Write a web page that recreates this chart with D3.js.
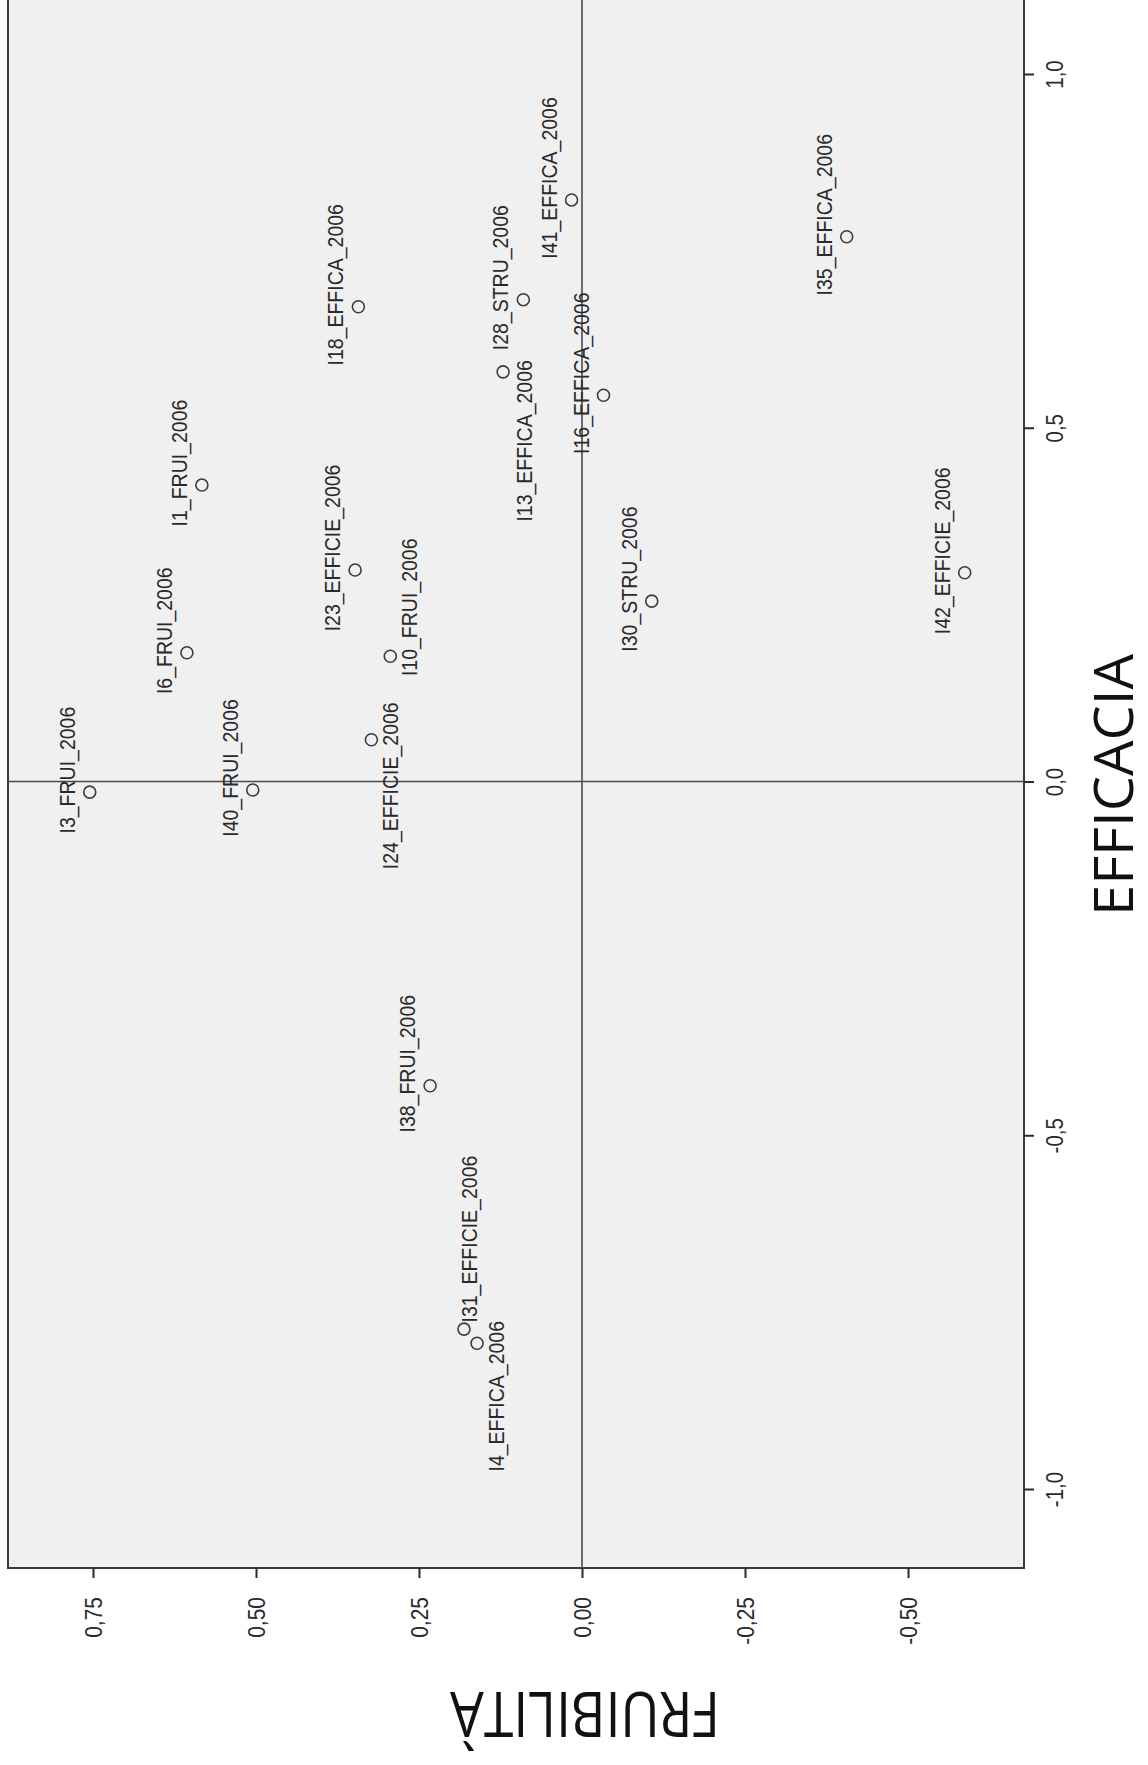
<!DOCTYPE html>
<html>
<head>
<meta charset="utf-8">
<script src="https://cdn.jsdelivr.net/npm/d3@7"></script>
<style>
  html, body { margin: 0; padding: 0; background: #ffffff; }
  svg { display: block; }
</style>
</head>
<body>
<svg id="chart" width="1148" height="1765"></svg>
<script>
// Indicator names and their coordinates on the two dimensions
const names = [
  "I3_FRUI_2006", "I40_FRUI_2006", "I6_FRUI_2006", "I1_FRUI_2006",
  "I23_EFFICIE_2006", "I10_FRUI_2006", "I24_EFFICIE_2006", "I18_EFFICA_2006",
  "I28_STRU_2006", "I13_EFFICA_2006", "I16_EFFICA_2006", "I41_EFFICA_2006",
  "I30_STRU_2006", "I35_EFFICA_2006", "I42_EFFICIE_2006", "I38_FRUI_2006",
  "I31_EFFICIE_2006", "I4_EFFICA_2006"
];
const fruibilita = [
  0.755, 0.505, 0.606, 0.583,
  0.348, 0.294, 0.323, 0.343,
  0.090, 0.121, -0.033, 0.016,
  -0.107, -0.406, -0.587, 0.233,
  0.181, 0.161
];
const efficacia = [
  -0.015, -0.012, 0.182, 0.419,
  0.299, 0.177, 0.059, 0.671,
  0.681, 0.579, 0.546, 0.822,
  0.255, 0.770, 0.295, -0.430,
  -0.774, -0.794
];
const fruiTicks = [0.75, 0.5, 0.25, 0, -0.25, -0.5];
const effTicks = [1, 0.5, 0, -0.5, -1];

// Page is drawn turned a quarter: FRUIBILITÀ runs across, EFFICACIA runs down.
const frame = { left: 8, right: 1024, top: -4, bottom: 1568 };
const x = d3.scaleLinear().domain([0.75, -0.5]).range([93, 908]);
const y = d3.scaleLinear().domain([1, -1]).range([74, 1489]);

const locale = d3.formatLocale({ decimal: ",", thousands: ".", grouping: [3], currency: ["", "€"], minus: "-" });
const fmt2 = locale.format(".2f");
const fmt1 = locale.format(".1f");

// Label placement around each marker (offsets of the label centre)
const defaultOffset = [-23, -22];
const labelOffset = {
  "I10_FRUI_2006": [19, -49],
  "I24_EFFICIE_2006": [19, 46],
  "I13_EFFICA_2006": [21, 69],
  "I4_EFFICA_2006": [19, 53],
  "I31_EFFICIE_2006": [5, -90]
};

const svg = d3.select("#chart");
const ink = "#2b2b2b";
const labelFont = "'Liberation Sans', Arial, sans-serif";

// plot area
svg.append("rect")
  .attr("x", frame.left).attr("y", frame.top)
  .attr("width", frame.right - frame.left).attr("height", frame.bottom - frame.top)
  .attr("fill", "#f0f0f0")
  .attr("stroke", "#3a3a3a").attr("stroke-width", 2);

// reference lines through the origin
svg.append("line")
  .attr("x1", x(0)).attr("x2", x(0))
  .attr("y1", frame.top).attr("y2", frame.bottom)
  .attr("stroke", "#4a4a4a").attr("stroke-width", 1.6);
svg.append("line")
  .attr("x1", frame.left).attr("x2", frame.right)
  .attr("y1", y(0)).attr("y2", y(0))
  .attr("stroke", "#4a4a4a").attr("stroke-width", 1.6);

// FRUIBILITÀ axis along the bottom
const bottomAxis = svg.append("g")
  .attr("transform", `translate(0,${frame.bottom})`)
  .call(d3.axisBottom(x).tickValues(fruiTicks).tickSize(10).tickFormat(fmt2));
bottomAxis.select(".domain").remove();
bottomAxis.selectAll(".tick line").attr("stroke", ink).attr("stroke-width", 2);
bottomAxis.selectAll(".tick text")
  .attr("fill", ink)
  .attr("font-family", labelFont)
  .attr("font-size", 21)
  .attr("text-anchor", "end")
  .attr("dy", null)
  .attr("dominant-baseline", "central")
  .attr("y", null)
  .attr("transform", "translate(0,29) rotate(-90) scale(1,1.15)");

// EFFICACIA axis along the right edge
const rightAxis = svg.append("g")
  .attr("transform", `translate(${frame.right},0)`)
  .call(d3.axisRight(y).tickValues(effTicks).tickSize(10).tickFormat(fmt1));
rightAxis.select(".domain").remove();
rightAxis.selectAll(".tick line").attr("stroke", ink).attr("stroke-width", 2);
rightAxis.selectAll(".tick text")
  .attr("fill", ink)
  .attr("font-family", labelFont)
  .attr("font-size", 20.5)
  .attr("text-anchor", "middle")
  .attr("dy", null)
  .attr("x", null)
  .attr("dominant-baseline", "central")
  .attr("transform", "translate(31,0) rotate(-90) scale(1,1.15)");

// points
const pts = names.map((n, i) => ({ name: n, f: fruibilita[i], e: efficacia[i] }));

svg.append("g").selectAll("circle")
  .data(pts).join("circle")
  .attr("cx", d => x(d.f)).attr("cy", d => y(d.e))
  .attr("r", 6)
  .attr("fill", "none")
  .attr("stroke", "#3c3c3c").attr("stroke-width", 1.6);

svg.append("g").selectAll("text")
  .data(pts).join("text")
  .attr("transform", d => {
    const o = labelOffset[d.name] || defaultOffset;
    return `translate(${x(d.f) + o[0]},${y(d.e) + o[1]}) rotate(-90) scale(1,1.15)`;
  })
  .attr("text-anchor", "middle")
  .attr("dominant-baseline", "central")
  .attr("font-family", labelFont)
  .attr("font-size", 19.5)
  .attr("fill", "#2a2a2a")
  .text(d => d.name);

// axis titles
svg.append("text")
  .attr("transform", "translate(1133,785) rotate(-90)")
  .attr("text-anchor", "middle")
  .attr("font-family", "'Open Sans', 'Noto Sans', sans-serif")
  .attr("font-size", 55)
  .attr("textLength", 262)
  .attr("lengthAdjust", "spacingAndGlyphs")
  .attr("fill", "#111")
  .text("EFFICACIA");

svg.append("text")
  .attr("transform", "translate(585,1692) rotate(180)")
  .attr("text-anchor", "middle")
  .attr("font-family", "'Open Sans', 'Noto Sans', sans-serif")
  .attr("font-size", 62)
  .attr("textLength", 270)
  .attr("lengthAdjust", "spacingAndGlyphs")
  .attr("fill", "#111")
  .text("FRUIBILITÀ");
</script>
</body>
</html>
